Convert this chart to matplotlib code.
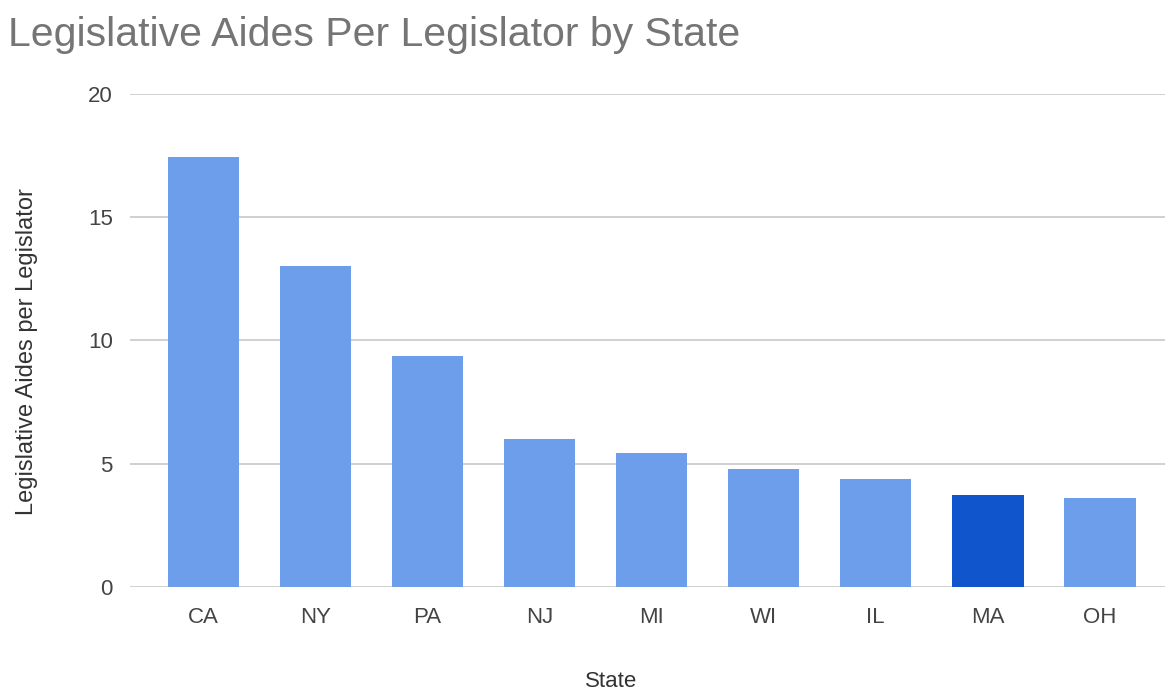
import matplotlib.pyplot as plt

plt.rcParams['font.family'] = ['Liberation Sans', 'DejaVu Sans']

states = ['CA', 'NY', 'PA', 'NJ', 'MI', 'WI', 'IL', 'MA', 'OH']
aides = [17.45, 13.0, 9.35, 6.0, 5.45, 4.8, 4.37, 3.75, 3.63]
highlight = 'MA'

colors = ['#1155cc' if s == highlight else '#6d9eeb' for s in states]

fig = plt.figure(figsize=(11.67, 6.94), dpi=100)
ax = fig.add_axes([0.111, 0.154, 0.887, 0.711])

ax.bar(range(len(states)), aides, width=0.64, color=colors, zorder=3)
ax.set_xlim(-0.66, 8.58)
ax.set_ylim(0, 20)
ax.set_yticks([0, 5, 10, 15, 20])
ax.set_xticks(range(len(states)))
ax.set_xticklabels(states)

ax.grid(axis='y', color='#d0d0d0', linewidth=1.4, zorder=0)
for sp in ax.spines.values():
    sp.set_visible(False)
ax.tick_params(axis='both', length=0, labelsize=16, labelcolor='#444444')
ax.tick_params(axis='y', pad=12)
ax.tick_params(axis='x', pad=14)

ax.set_xlabel('State', fontsize=16, color='#333333')
ax.xaxis.set_label_coords(0.465, -0.17)
ax.set_ylabel('Legislative Aides per Legislator', fontsize=17, color='#333333')
ax.yaxis.set_label_coords(-0.088, 0.477)

fig.text(0.007, 0.95, 'Legislative Aides Per Legislator by State', fontsize=29.5,
         color='#757575', ha='left', va='center')

fig.savefig('out.png', dpi=100)
